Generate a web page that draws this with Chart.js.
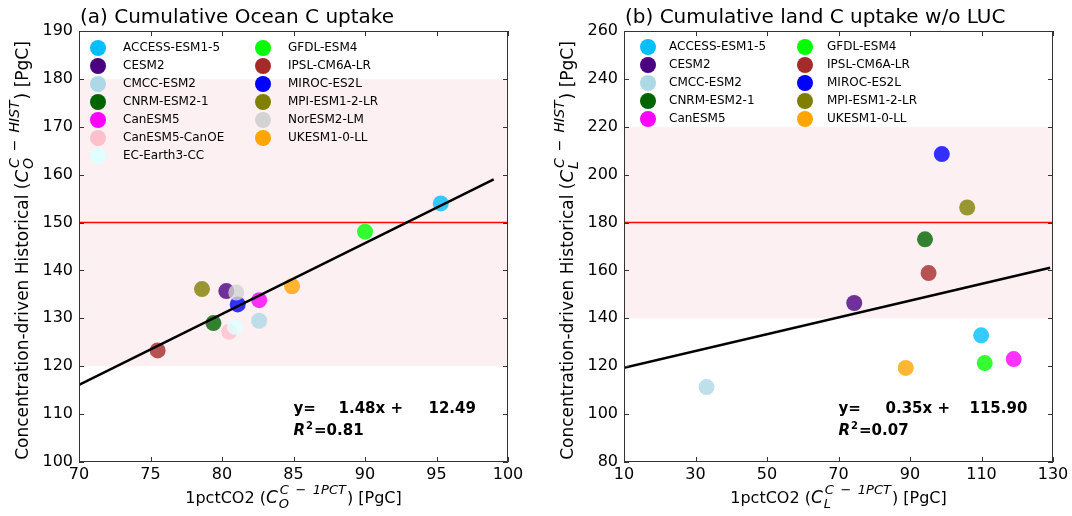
<!DOCTYPE html>
<html>
<head>
<meta charset="utf-8">
<script src="https://cdn.jsdelivr.net/npm/chart.js@4.4.1/dist/chart.umd.min.js"></script>
<style>
  body { margin: 0; background: #fff; }
  #wrap { position: relative; width: 1072px; height: 516px; }
  .panel { position: absolute; top: 0; width: 536px; height: 516px; }
</style>
</head>
<body>
<div id="wrap">
  <div class="panel" style="left:0"><canvas id="ocean" width="536" height="516"></canvas></div>
  <div class="panel" style="left:536px"><canvas id="land" width="536" height="516"></canvas></div>
</div>
<script>
// ---- data ----
var oceanModels = ['ACCESS-ESM1-5', 'CESM2', 'CMCC-ESM2', 'CNRM-ESM2-1', 'CanESM5', 'CanESM5-CanOE', 'EC-Earth3-CC',
  'GFDL-ESM4', 'IPSL-CM6A-LR', 'MIROC-ES2L', 'MPI-ESM1-2-LR', 'NorESM2-LM', 'UKESM1-0-LL'];
var oceanColors = ['#00bfff', '#4b0082', '#add8e6', '#006400', '#ff00ff', '#ffc0cb', '#e0ffff',
  '#00ff00', '#a52a2a', '#0000ff', '#808000', '#d3d3d3', '#ffa500'];
var oceanX = [95.3, 80.3, 82.6, 79.4, 82.6, 80.5, 80.9, 90.0, 75.5, 81.1, 78.6, 81.0, 84.9];
var oceanY = [154.0, 135.7, 129.5, 129.0, 133.8, 127.2, 128.2, 148.1, 123.3, 132.9, 136.1, 135.4, 136.7];
var oceanFitX = [70, 99];
var oceanFitY = [116.1, 159.0];

var landModels = ['ACCESS-ESM1-5', 'CESM2', 'CMCC-ESM2', 'CNRM-ESM2-1', 'CanESM5',
  'GFDL-ESM4', 'IPSL-CM6A-LR', 'MIROC-ES2L', 'MPI-ESM1-2-LR', 'UKESM1-0-LL'];
var landColors = ['#00bfff', '#4b0082', '#add8e6', '#006400', '#ff00ff',
  '#00ff00', '#a52a2a', '#0000ff', '#808000', '#ffa500'];
var landX = [109.9, 74.4, 33.1, 94.2, 119.0, 110.9, 95.2, 98.9, 106.0, 88.8];
var landY = [132.9, 146.4, 111.3, 173.0, 123.0, 121.3, 158.9, 208.6, 186.3, 119.3];
var landFitX = [10, 129.2];
var landFitY = [119.4, 161.1];

var FONT = '"DejaVu Sans"';

function withAlpha(hex, a) {
  var n = parseInt(hex.slice(1), 16);
  return 'rgba(' + (n >> 16) + ',' + ((n >> 8) & 255) + ',' + (n & 255) + ',' + a + ')';
}

// axis label with C_sub^sup, size = main font size
function drawAxisLabel(ctx, x, y, rot, size, pre, sub, sup, post) {
  ctx.save();
  ctx.translate(x, y);
  ctx.rotate(rot);
  var big = size + 'px ' + FONT, bigI = 'italic ' + (size + 1) + 'px ' + FONT,
    small = 'italic ' + Math.round(size * 0.8) + 'px ' + FONT;
  ctx.font = big;
  var w1 = ctx.measureText(pre).width, w4 = ctx.measureText(post).width;
  ctx.font = bigI;
  var w2 = ctx.measureText('C').width + 1;
  ctx.font = small;
  var w3 = Math.max(ctx.measureText(sub).width, ctx.measureText(sup).width) + 2;
  var cx = -(w1 + w2 + w3 + w4) / 2;
  ctx.fillStyle = '#000';
  ctx.textAlign = 'left';
  ctx.textBaseline = 'alphabetic';
  ctx.font = big; ctx.fillText(pre, cx, 0); cx += w1;
  ctx.font = bigI; ctx.fillText('C', cx, 0); cx += w2;
  ctx.font = small; ctx.fillText(sub, cx, 5); ctx.fillText(sup, cx + 1, -9); cx += w3;
  ctx.font = big; ctx.fillText(post, cx, 0);
  ctx.restore();
}

function makePanel(id, p) {
  var panelPlugin = {
    id: 'panel_' + id,
    beforeDatasetsDraw: function (chart) {
      var ctx = chart.ctx, a = chart.chartArea, ys = chart.scales.y;
      ctx.save();
      ctx.fillStyle = '#fdf0f2';
      var top = ys.getPixelForValue(p.band[1]), bot = ys.getPixelForValue(p.band[0]);
      ctx.fillRect(a.left, top, a.right - a.left, bot - top);
      ctx.strokeStyle = '#ff0000';
      ctx.lineWidth = 1.5;
      var ry = ys.getPixelForValue(p.refY);
      ctx.beginPath(); ctx.moveTo(a.left, ry); ctx.lineTo(a.right, ry); ctx.stroke();
      ctx.restore();
    },
    afterDraw: function (chart) {
      var ctx = chart.ctx, a = chart.chartArea, xs = chart.scales.x, ys = chart.scales.y;
      ctx.save();
      // frame + inward ticks
      ctx.strokeStyle = '#333';
      ctx.lineWidth = 1;
      ctx.strokeRect(a.left + 0.5, a.top + 0.5, a.right - a.left - 1, a.bottom - a.top - 1);
      ctx.beginPath();
      xs.ticks.forEach(function (t) {
        var px = Math.round(xs.getPixelForValue(t.value)) + 0.5;
        ctx.moveTo(px, a.bottom); ctx.lineTo(px, a.bottom - 5);
        ctx.moveTo(px, a.top); ctx.lineTo(px, a.top + 5);
      });
      ys.ticks.forEach(function (t) {
        var py = Math.round(ys.getPixelForValue(t.value)) + 0.5;
        ctx.moveTo(a.left, py); ctx.lineTo(a.left + 5, py);
        ctx.moveTo(a.right, py); ctx.lineTo(a.right - 5, py);
      });
      ctx.stroke();

      // title
      ctx.fillStyle = '#000';
      ctx.textAlign = 'left';
      ctx.textBaseline = 'alphabetic';
      ctx.font = '20px ' + FONT;
      ctx.fillText(p.title, a.left + 1, 23);

      // axis labels
      drawAxisLabel(ctx, p.yLabelX, (a.top + a.bottom) / 2 + 4, -Math.PI / 2, 17,
        'Concentration-driven Historical (', p.sub, 'C\u2002\u2212\u2002HIST', ') [PgC]');
      drawAxisLabel(ctx, (a.left + a.right) / 2, 503, 0, 16,
        '1pctCO2 (', p.sub, 'C\u2002\u2212\u20021PCT', ') [PgC]');

      // legend, two columns, column-major
      ctx.font = '12px ' + FONT;
      ctx.textBaseline = 'middle';
      var rows = Math.ceil(p.models.length / 2);
      p.models.forEach(function (m, i) {
        var col = Math.floor(i / rows), row = i % rows;
        var ly = a.top + p.leg.y0 + row * 18;
        ctx.fillStyle = p.colors[i];
        ctx.beginPath();
        ctx.arc(a.left + p.leg.mx[col], ly, 8, 0, Math.PI * 2);
        ctx.fill();
        ctx.fillStyle = '#000';
        ctx.fillText(m, a.left + p.leg.tx[col], ly);
      });

      // fit text
      var fx = xs.getPixelForValue(p.fitPos[0]), fy = ys.getPixelForValue(p.fitPos[1]);
      ctx.textBaseline = 'alphabetic';
      ctx.font = 'bold 15px ' + FONT;
      ctx.fillText('y=', fx, fy);
      ctx.fillText(p.fitText[0], fx + p.fitOff[0], fy);
      ctx.fillText(p.fitText[1], fx + p.fitOff[1], fy);
      var ry = fy + 22;
      ctx.font = 'italic bold 15px ' + FONT;
      ctx.fillText('R', fx, ry);
      var rw = ctx.measureText('R').width;
      ctx.font = 'bold 10px ' + FONT;
      ctx.fillText('2', fx + rw + 1, ry - 6);
      var sw = ctx.measureText('2').width;
      ctx.font = 'bold 15px ' + FONT;
      ctx.fillText('=' + p.r2, fx + rw + sw + 2, ry);
      ctx.restore();
    }
  };

  var pts = p.xs.map(function (x, i) { return { x: x, y: p.ys[i] }; });
  var fit = p.fitX.map(function (x, i) { return { x: x, y: p.fitY[i] }; });

  return new Chart(document.getElementById(id), {
    type: 'scatter',
    data: {
      datasets: [{
        type: 'line',
        data: fit,
        borderColor: '#000',
        borderWidth: 2.5,
        pointRadius: 0,
        fill: false,
        order: 0
      }, {
        data: pts,
        pointRadius: 8,
        pointHoverRadius: 8,
        pointBorderWidth: 0,
        pointBackgroundColor: p.colors.map(function (c) { return withAlpha(c, 0.8); }),
        order: 1
      }]
    },
    options: {
      responsive: false,
      animation: false,
      layout: { padding: { top: 31, right: p.padRight, left: 0, bottom: 0 } },
      plugins: { legend: { display: false }, tooltip: { enabled: false } },
      scales: {
        x: {
          type: 'linear', min: p.xRange[0], max: p.xRange[1],
          grid: { display: false, drawTicks: false },
          border: { display: false },
          ticks: { stepSize: p.xStep, autoSkip: false, maxRotation: 0, padding: 3, color: '#000', font: { family: 'DejaVu Sans', size: 16 } },
          afterFit: function (s) { s.height = 54; }
        },
        y: {
          type: 'linear', min: p.yRange[0], max: p.yRange[1],
          grid: { display: false, drawTicks: false },
          border: { display: false },
          ticks: { stepSize: p.yStep, autoSkip: false, padding: 6, color: '#000', font: { family: 'DejaVu Sans', size: 16 } },
          afterFit: function (s) { s.width = p.yWidth; }
        }
      }
    },
    plugins: [panelPlugin]
  });
}

makePanel('ocean', {
  title: '(a) Cumulative Ocean C uptake',
  models: oceanModels, colors: oceanColors, xs: oceanX, ys: oceanY,
  fitX: oceanFitX, fitY: oceanFitY,
  xRange: [70, 100], xStep: 5, yRange: [100, 190], yStep: 10,
  band: [120, 180], refY: 150, sub: 'O',
  yWidth: 79, padRight: 28, yLabelX: 28,
  leg: { y0: 17, mx: [19, 184], tx: [44, 209] },
  fitPos: [85, 110.2], fitText: ['1.48x +', '12.49'], fitOff: [45, 135], r2: '0.81'
});

makePanel('land', {
  title: '(b) Cumulative land C uptake w/o LUC',
  models: landModels, colors: landColors, xs: landX, ys: landY,
  fitX: landFitX, fitY: landFitY,
  xRange: [10, 130], xStep: 20, yRange: [80, 260], yStep: 20,
  band: [140, 220], refY: 180, sub: 'L',
  yWidth: 88, padRight: 19, yLabelX: 37,
  leg: { y0: 16, mx: [24, 181], tx: [45, 203] },
  fitPos: [70, 100.4], fitText: ['0.35x +', '115.90'], fitOff: [47, 131], r2: '0.07'
});
</script>
</body>
</html>
